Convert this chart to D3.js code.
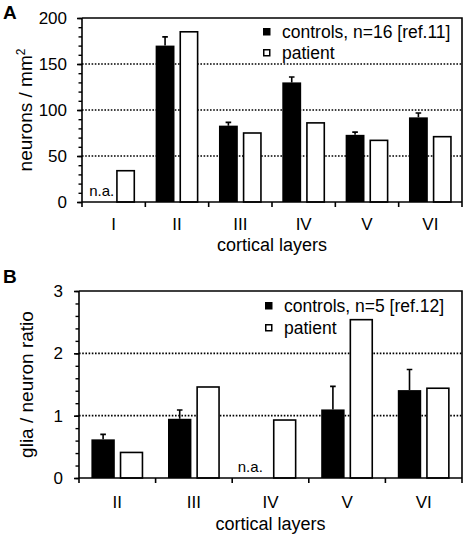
<!DOCTYPE html>
<html>
<head>
<meta charset="utf-8">
<script src="https://cdn.jsdelivr.net/npm/d3@7"></script>
<style>
  body { margin: 0; background: #fff; }
  svg { display: block; }
  text { font-family: "Liberation Sans", Arial, Helvetica, sans-serif; fill: #000; }
</style>
</head>
<body>
<svg id="chart" width="466" height="539"></svg>
<script>
// ---- Panel A data ----
const layersA = ["I", "II", "III", "IV", "V", "VI"];
const controlsA = [null, 170, 83, 130, 73, 92];
const controlsErrA = [null, 9.5, 3.6, 5.8, 3, 4.7];
const patientA = [34, 185, 75, 86, 67, 71];
const ticksA = [0, 50, 100, 150, 200];
const legendA = ["controls, n=16 [ref.11]", "patient"];

// ---- Panel B data ----
const layersB = ["II", "III", "IV", "V", "VI"];
const controlsB = [0.62, 0.95, null, 1.10, 1.41];
const controlsErrB = [0.08, 0.14, null, 0.37, 0.33];
const patientB = [0.41, 1.46, 0.93, 2.54, 1.44];
const ticksB = [0, 1, 2, 3];
const legendB = ["controls, n=5 [ref.12]", "patient"];

const svg = d3.select("#chart");

function panel(cfg) {
  const g = svg.append("g");
  const x = d3.scaleBand().domain(cfg.cats).range([cfg.x0, cfg.x1]).paddingInner(0).paddingOuter(0);
  const y = d3.scaleLinear().domain([0, cfg.max]).range([cfg.yB, cfg.yT]);
  const bw = x.bandwidth();
  const inner = d3.scaleBand().domain(["c", "p"])
    .range([cfg.margin, bw - cfg.margin]).paddingInner(cfg.gapP).paddingOuter(0);

  // gridlines (dotted)
  g.selectAll(".grid").data(cfg.ticks.filter(t => t > 0 && t < cfg.max)).enter()
    .append("line")
    .attr("x1", cfg.x0).attr("x2", cfg.x1)
    .attr("y1", d => y(d)).attr("y2", d => y(d))
    .attr("stroke", "#000").attr("stroke-width", 1.6)
    .attr("stroke-dasharray", "1.6,1.6");

  // controls bars
  const cData = cfg.cats.map((c, i) => ({c, v: cfg.controls[i], e: cfg.err[i]})).filter(d => d.v != null);
  g.selectAll(".cbar").data(cData).enter().append("rect")
    .attr("x", d => x(d.c) + inner("c"))
    .attr("width", inner.bandwidth())
    .attr("y", d => y(d.v))
    .attr("height", d => y(0) - y(d.v))
    .attr("fill", "#000");
  // error bars
  g.selectAll(".err").data(cData).enter().append("path")
    .attr("d", d => {
      const cx = x(d.c) + inner("c") + inner.bandwidth() / 2;
      const yt = y(d.v + d.e);
      return `M${cx},${y(d.v)}V${yt}M${cx - 2.8},${yt}H${cx + 2.8}`;
    })
    .attr("stroke", "#000").attr("stroke-width", 1.6).attr("fill", "none");

  // patient bars
  const pData = cfg.cats.map((c, i) => ({c, v: cfg.patient[i]})).filter(d => d.v != null);
  g.selectAll(".pbar").data(pData).enter().append("rect")
    .attr("x", d => x(d.c) + inner("p") + 0.75)
    .attr("width", inner.bandwidth() - 1.5)
    .attr("y", d => y(d.v))
    .attr("height", d => y(0) - y(d.v))
    .attr("fill", "#fff").attr("stroke", "#000").attr("stroke-width", 1.6);

  // n.a. labels
  cfg.cats.forEach((c, i) => {
    if (cfg.controls[i] == null) {
      g.append("text")
        .attr("x", x(c) + inner("c") + inner.bandwidth() / 2 + cfg.naDx)
        .attr("y", y(0) - 6)
        .attr("text-anchor", "middle")
        .attr("font-size", 15)
        .text("n.a.");
    }
  });

  // frame: top and right
  g.append("path")
    .attr("d", `M${cfg.x0},${cfg.yT}H${cfg.x1}V${cfg.yB}`)
    .attr("stroke", "#000").attr("stroke-width", 1.6).attr("fill", "none");

  // y axis
  const minorTicks = d3.range(0, cfg.max + cfg.minor / 2, cfg.minor);
  const yAxisG = g.append("g").attr("transform", `translate(${cfg.x0},0)`);
  yAxisG.call(d3.axisLeft(y).tickValues(minorTicks).tickSize(3.5).tickFormat(""))
    .call(a => a.select(".domain").remove());
  yAxisG.selectAll("line").attr("stroke-width", 1.4);
  const yAxisMaj = g.append("g").attr("transform", `translate(${cfg.x0},0)`);
  yAxisMaj.call(d3.axisLeft(y).tickValues(cfg.ticks).tickSize(5).tickPadding(cfg.tickPad).tickFormat(d3.format("d")));
  yAxisMaj.select(".domain").attr("d", `M0,${cfg.yT}V${cfg.yB}`).attr("stroke-width", 1.6);
  yAxisMaj.selectAll("line").attr("stroke-width", 1.6);
  yAxisMaj.selectAll("text").attr("font-size", 17).attr("font-family", "Liberation Sans, Arial, sans-serif");

  // x axis
  const xAxisG = g.append("g").attr("transform", `translate(0,${cfg.yB})`);
  xAxisG.call(d3.axisBottom(x).tickSize(0).tickPadding(cfg.catPad));
  xAxisG.select(".domain").attr("d", `M${cfg.x0},0H${cfg.x1}`).attr("stroke-width", 1.6);
  xAxisG.selectAll("text").attr("font-size", 17).attr("font-family", "Liberation Sans, Arial, sans-serif");
  const bounds = cfg.cats.map(c => x(c)).concat([cfg.x1]);
  xAxisG.selectAll(".bt").data(bounds).enter().append("line")
    .attr("x1", d => d).attr("x2", d => d).attr("y1", 0).attr("y2", 5)
    .attr("stroke", "#000").attr("stroke-width", 1.6);

  // x title
  g.append("text")
    .attr("x", (cfg.x0 + cfg.x1) / 2).attr("y", cfg.xTitleY)
    .attr("text-anchor", "middle").attr("font-size", 18)
    .text("cortical layers");

  // y title
  const yt = g.append("text")
    .attr("transform", `translate(${cfg.yTitleX},${(cfg.yT + cfg.yB) / 2}) rotate(-90)`)
    .attr("text-anchor", "middle").attr("font-size", 19);
  cfg.yTitle(yt);

  // panel letter
  g.append("text").attr("x", 3).attr("y", cfg.letterY)
    .attr("font-size", 19).attr("font-weight", "bold").text(cfg.letter);

  // legend
  const lg = g.append("g");
  cfg.legend.forEach((t, i) => {
    const ly = cfg.legY + i * cfg.legStep;
    lg.append("rect")
      .attr("x", cfg.legX + (i ? 0.75 : 0)).attr("y", ly - 10 + (i ? 0.75 : 0))
      .attr("width", i ? 6 : 7.5).attr("height", i ? 6 : 7.5)
      .attr("fill", i ? "#fff" : "#000")
      .attr("stroke", i ? "#000" : "none").attr("stroke-width", 1.5);
    lg.append("text").attr("x", cfg.legX + 19).attr("y", ly)
      .attr("font-size", 17.5).text(t);
  });
}

panel({
  cats: layersA, controls: controlsA, err: controlsErrA, patient: patientA,
  x0: 82, x1: 462, yT: 18, yB: 202, max: 200, ticks: ticksA, minor: 10,
  margin: 10.3, gapP: 0.21, tickPad: 10, catPad: 16, naDx: 0,
  xTitleY: 250.5, yTitleX: 32, letter: "A", letterY: 19,
  legend: legendA, legX: 263, legY: 38, legStep: 21,
  yTitle: t => { t.append("tspan").text("neurons / mm"); t.append("tspan").attr("dy", -7).attr("font-size", 12).text("2"); }
});

panel({
  cats: layersB, controls: controlsB, err: controlsErrB, patient: patientB,
  x0: 79, x1: 462, yT: 291, yB: 478, max: 3, ticks: ticksB, minor: 0.2,
  margin: 12.4, gapP: 0.175, tickPad: 11, catPad: 18, naDx: -6,
  xTitleY: 530, yTitleX: 33, letter: "B", letterY: 283,
  legend: legendB, legX: 265, legY: 312, legStep: 22,
  yTitle: t => t.text("glia / neuron ratio")
});
</script>
</body>
</html>
